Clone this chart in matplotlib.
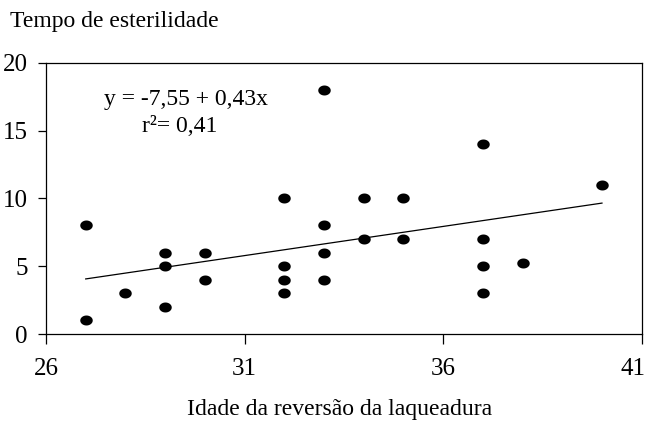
import numpy as np
import matplotlib
matplotlib.use('Agg')
import matplotlib.pyplot as plt
import matplotlib.transforms as mtransforms
from matplotlib.path import Path

# idade da reversao (x) e tempo de esterilidade (y)
idade = [27, 27, 28, 29, 29, 29, 30, 30, 32, 32, 32, 32, 33, 33, 33, 33,
         34, 34, 35, 35, 37, 37, 37, 37, 38, 40]
tempo = [8, 1, 3, 6, 5, 2, 6, 4, 10, 5, 4, 3, 18, 8, 6, 4,
         10, 7, 10, 7, 14, 7, 5, 3, 5.2, 11]

intercepto = -7.55
inclinacao = 0.43
r2_txt = '0,41'

xticks = [26, 31, 36, 41]
yticks = [0, 5, 10, 15, 20]

plt.rcParams['font.family'] = 'Liberation Serif'

fig = plt.figure(figsize=(6.47, 4.25), dpi=100)
ax = fig.add_axes([0.0711, 0.2141, 0.9207, 0.6384])

# marcador eliptico (um pouco achatado, como no original)
t = np.linspace(0, 2 * np.pi, 40)
elipse = Path(np.column_stack([np.cos(t), 0.8 * np.sin(t)]), closed=True)

ax.plot(idade, tempo, linestyle='none', marker=elipse, markersize=9,
        color='black', markeredgewidth=0)

xs = np.array([min(idade), max(idade)])
ax.plot(xs, intercepto + inclinacao * xs, color='black', linewidth=0.9)

ax.set_xlim(26, 41)
ax.set_ylim(0, 20)
ax.set_xticks(xticks)
ax.set_yticks(yticks)
ax.tick_params(axis='x', direction='out', length=7, width=0.9,
               labelsize=18, pad=10)
ax.tick_params(axis='y', direction='out', length=6, width=0.9,
               labelsize=18, pad=7)
for s in ax.spines.values():
    s.set_linewidth(0.9)

# o ultimo rotulo do eixo x fica encostado na borda direita
fig.canvas.draw()
ult = ax.get_xticklabels()[-1]
ult.set_horizontalalignment('right')
ult.set_transform(ult.get_transform() +
                  mtransforms.ScaledTranslation(4 / 100, 0, fig.dpi_scale_trans))

ax.text(0.235, 0.865, 'y = -7,55 + 0,43x', transform=ax.transAxes,
        ha='center', va='center', fontsize=17)
ax.text(0.225, 0.765, 'r²= ' + r2_txt, transform=ax.transAxes,
        ha='center', va='center', fontsize=17)

fig.text(10 / 647, 1 - 22 / 425, 'Tempo de esterilidade', ha='left',
         va='center', fontsize=17)
fig.text(340 / 647, 1 - 409 / 425, 'Idade da reversão da laqueadura',
         ha='center', va='center', fontsize=17)

fig.savefig('out.png', dpi=100)
